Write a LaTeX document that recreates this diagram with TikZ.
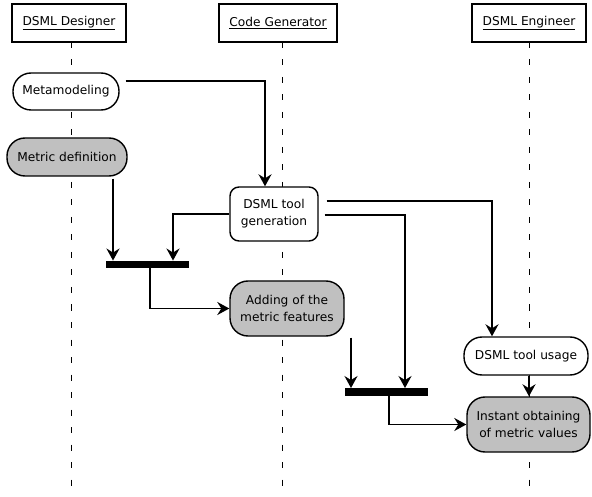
\documentclass[tikz,border=0pt]{standalone}
\usepackage{fontspec}
\setmainfont{DejaVu Sans}
\usetikzlibrary{arrows.meta,calc}
\definecolor{actgray}{HTML}{C0C0C0}
\begin{document}
\begin{tikzpicture}[x=1pt,y=-1pt,
  every node/.style={font=\fontsize{12.2}{17}\selectfont, inner sep=0pt, align=center},
  header/.style={draw, line width=2.2pt, fill=white, minimum height=38pt},
  life/.style={line width=0.9pt, dash pattern=on 6pt off 11.5pt},
  act/.style={draw, line width=1.4pt, fill=white, rounded corners=18pt, minimum height=37pt},
  actg/.style={act, fill=actgray},
  bar/.style={fill=black, draw=none, minimum width=83pt, minimum height=7.5pt},
  arr/.style={line width=1.7pt, -{Stealth[length=12pt,width=13pt,inset=4pt]}},
]
\useasboundingbox (0,0) rectangle (592,497);
% lifelines
\coordinate (l1t) at (71,42);  \coordinate (l1b) at (71,497);
\coordinate (l2t) at (282,42); \coordinate (l2b) at (282,497);
\coordinate (l3t) at (529,42); \coordinate (l3b) at (529,497);
\draw[life] (l1t) -- (l1b);
\draw[life] (l2t) -- (l2b);
\draw[life] (l3t) -- (l3b);
% headers
\node[header, minimum width=114pt] (h1) at (69,23) {\underline{DSML Designer}};
\node[header, minimum width=118pt] (h2) at (278,23) {\underline{Code Generator}};
\node[header, minimum width=114pt] (h3) at (529,23) {\underline{DSML Engineer}};
% activities
\node[act, minimum width=106pt] (meta) at (66,91.5) {Metamodeling};
\node[actg, minimum width=120pt, minimum height=38pt] (metdef) at (67,157) {Metric definition};
\node[act, rounded corners=9pt, minimum width=88pt, minimum height=54pt] (gen) at (274,214) {DSML tool\\generation};
\node[bar] (bar1) at (147.5,264.5) {};
\node[actg, minimum width=114pt, minimum height=55pt] (add) at (287,308.5) {Adding of the\\metric features};
\node[bar] (bar2) at (386.5,392) {};
\node[act, minimum width=124pt, minimum height=38pt] (usage) at (526,356) {DSML tool usage};
\node[actg, minimum width=123pt, minimum height=55pt] (inst) at (528.5,424.5) {Instant obtaining\\of metric values};
% connectors
\draw[arr] ($(meta.east)+(6,-10.5)$) -| ($(gen.north)+(-9,0)$);
\draw[arr] ($(metdef.south)+(46,2)$) -- ($(bar1.north)+(-34.5,0)$);
\draw[arr] (gen.west) -| ($(bar1.north)+(25.5,0)$);
\draw[arr] ($(bar1.south)+(2.5,0)$) |- (add.west);
\draw[arr] ($(add.south)+(64,1)$) -- ($(bar2.north)+(-35.5,0)$);
\draw[arr] ($(gen.east)+(8,-13)$) -| ($(usage.north)+(-34,0)$);
\draw[arr] ($(gen.east)+(6,1)$) -| ($(bar2.north)+(18.5,0)$);
\draw[arr] ($(bar2.south)+(2.5,0)$) |- (inst.west);
\draw[arr] ($(usage.south)+(3,0)$) -- ($(inst.north)+(0.5,0)$);
\end{tikzpicture}
\end{document}
